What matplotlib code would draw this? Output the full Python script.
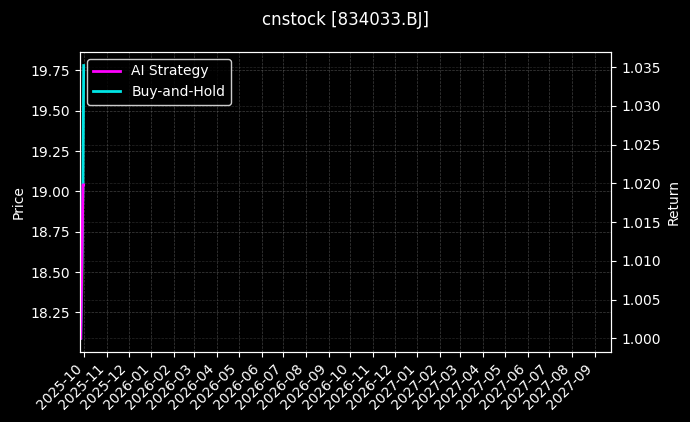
import numpy as np
import pandas as pd
import matplotlib
matplotlib.use("Agg")
import matplotlib.pyplot as plt
import matplotlib.dates as mdates

# Data (only a few trading days are present)
dates = pd.to_datetime(["2025-09-26", "2025-09-29", "2025-09-30"])
price = [18.09, 18.44, 19.78]
ai_strategy = [1.0000, 1.0198, 1.0198]
buy_and_hold = [1.0000, 1.0198, 1.0352]

x_start = pd.Timestamp("2025-09-25")
x_end = pd.Timestamp("2027-09-24")


def main():
    plt.style.use("dark_background")
    fig = plt.figure(figsize=(6.9, 4.22), dpi=100)
    ax = fig.add_axes([0.116, 0.166, 0.770, 0.711])
    ax2 = ax.twinx()

    # price on the left axis, thin and dim
    ax.plot(dates, price, color="#2e7d32", linewidth=1.0, alpha=0.8)
    ax.set_ylabel("Price")
    ax.grid(True, linestyle="--", linewidth=0.5, color="gray", alpha=0.5)

    # returns on the right axis
    l2, = ax2.plot(dates, buy_and_hold, color="#00e5e5", linewidth=2.0,
                   label="Buy-and-Hold")
    l1, = ax2.plot(dates, ai_strategy, color="#ff00ff", linewidth=2.0,
                   label="AI Strategy")
    ax2.set_ylabel("Return")
    ax2.grid(True, linestyle="--", linewidth=0.5, color="gray", alpha=0.3)

    ax.set_xlim(x_start, x_end)
    ax.xaxis.set_major_locator(mdates.MonthLocator())
    ax.xaxis.set_major_formatter(mdates.DateFormatter("%Y-%m"))
    plt.setp(ax.get_xticklabels(), rotation=45, ha="right")

    ax2.legend(handles=[l1, l2], loc="upper left", frameon=True,
               facecolor="black", edgecolor="white")
    fig.suptitle("cnstock [834033.BJ]", fontsize=12, y=0.975)

    fig.savefig("out.png", dpi=100)
    plt.close(fig)


if __name__ == "__main__":
    main()
